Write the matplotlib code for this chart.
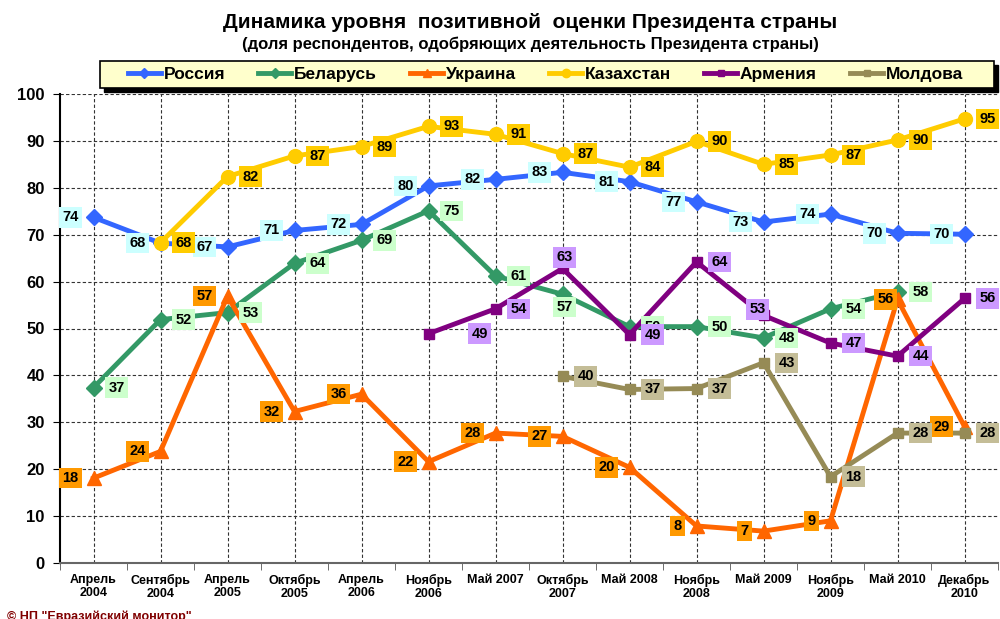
import numpy as np
import matplotlib
matplotlib.use("Agg")
import matplotlib.pyplot as plt
from matplotlib.patches import Rectangle

plt.rcParams['font.family'] = ['Liberation Sans', 'DejaVu Sans']
plt.rcParams['font.weight'] = 'bold'

nan = np.nan

# survey waves
periods = ["Апрель\n2004", "Сентябрь\n2004", "Апрель\n2005", "Октябрь\n2005",
           "Апрель\n2006", "Ноябрь\n2006", "Май 2007", "Октябрь\n2007",
           "Май 2008", "Ноябрь\n2008", "Май 2009", "Ноябрь\n2009",
           "Май 2010", "Декабрь\n2010"]

# approval, %
russia = [73.7, 68.2, 67.4, 70.9, 72.2, 80.4, 81.8, 83.3, 81.3, 77.0, 72.7, 74.4, 70.3, 70.1]
belarus = [37.4, 51.9, 53.4, 63.9, 68.8, 75.1, 61.2, 57.3, 50.4, 50.4, 48.0, 54.2, 57.8, nan]
ukraine = [18.1, 23.8, 56.9, 32.3, 36.0, 21.6, 27.7, 27.0, 20.4, 7.9, 6.8, 9.0, 56.2, 29.1]
kazakhstan = [nan, 68.3, 82.4, 86.8, 88.8, 93.1, 91.4, 87.3, 84.4, 89.9, 85.0, 87.0, 90.2, 94.7]
armenia = [nan, nan, nan, nan, nan, 48.9, 54.2, 62.8, 48.7, 64.2, 52.8, 46.9, 44.1, 56.4]
moldova = [nan, nan, nan, nan, nan, nan, nan, 39.8, 37.0, 37.2, 42.7, 18.4, 27.7, 27.7]

names = ["Россия", "Беларусь", "Украина", "Казахстан", "Армения", "Молдова"]
series = [russia, belarus, ukraine, kazakhstan, armenia, moldova]

# style per country: line colour, marker, marker size, label box colour, label side
styles = [
    ("#3366FF", "D", 8, "#CCFFFF", "left"),
    ("#339966", "D", 8, "#CCFFCC", "right"),
    ("#FF6600", "^", 10, "#FF9900", "left"),
    ("#FFCC00", "o", 10, "#FFCC00", "right"),
    ("#800080", "s", 7, "#CC99FF", "right"),
    ("#968B56", "s", 7, "#C4BD97", "right"),
]

# hand-placed labels: (series, point) -> (ha, dx px, dy px)
label_fix = {
    (1, 7): ("center", 2, -13),
    (2, 12): ("right", -4, 0),
    (4, 5): ("left", 43, 0),
    (4, 7): ("center", 2, 11),
    (4, 10): ("center", -6, 6),
}

x = np.arange(len(periods))

fig = plt.figure(figsize=(10, 6.19), dpi=100)
ax = fig.add_axes([0.06, 1 - 563 / 619, 0.938, (563 - 94) / 619])

handles = []
for i, (vals, name) in enumerate(zip(series, names)):
    color, marker, ms, box, side = styles[i]
    line, = ax.plot(x, vals, color=color, lw=3.5, marker=marker, ms=ms,
                    mec=color, mfc=color, label=name, zorder=3 + i * 0.1,
                    clip_on=False)
    handles.append(line)

for i, vals in enumerate(series):
    color, marker, ms, box, side = styles[i]
    for j, v in enumerate(vals):
        if np.isnan(v):
            continue
        if (i, j) in label_fix:
            ha, dx, dy = label_fix[(i, j)]
        elif side == "left":
            ha, dx, dy = "right", -15, 0
        else:
            ha, dx, dy = "left", 15, 0
        ax.annotate(f"{v:.0f}", xy=(x[j], v), xytext=(dx, dy),
                    textcoords="offset pixels", ha=ha, va="center",
                    fontsize=10.5, fontweight="bold", color="black",
                    bbox=dict(boxstyle="square,pad=0.22", fc=box, ec="none"),
                    zorder=10, annotation_clip=False)

ax.set_xlim(-0.5, 13.5)
ax.set_ylim(0, 100)
ax.set_xticks(x)
ax.set_xticklabels(periods)
ax.set_xticks(np.arange(-0.5, 14, 1), minor=True)
ax.set_yticks(np.arange(0, 101, 10))
ax.tick_params(axis="x", which="major", length=0, pad=8, labelsize=9)
ax.tick_params(axis="x", which="minor", length=5, direction="out", color="#555555")
ax.tick_params(axis="y", length=5, direction="out", pad=6, labelsize=12)
for lbl in ax.get_xticklabels():
    lbl.set_linespacing(1.05)

ax.grid(True, which="major", color="#333333", lw=0.8, ls=(0, (3, 2)))
ax.set_axisbelow(True)
ax.spines["top"].set_visible(False)
ax.spines["right"].set_visible(False)
ax.spines["left"].set_linewidth(1.5)
ax.spines["bottom"].set_linewidth(1.5)
ax.spines["bottom"].set_color("#666666")

fig.text(0.53, 1 - 22 / 619, "Динамика уровня  позитивной  оценки Президента страны",
         ha="center", va="center", fontsize=15, fontweight="bold")
fig.text(0.53, 1 - 44 / 619, "(доля респондентов, одобряющих деятельность Президента страны)",
         ha="center", va="center", fontsize=12, fontweight="bold")

# legend box with a hard black shadow
lx, ly, lw_, lh = 0.1, 1 - 88 / 619, 0.894, 27 / 619
fig.patches.append(Rectangle((lx + 4 / 1000, ly - 4 / 619), lw_, lh,
                             transform=fig.transFigure, fc="black", ec="black",
                             zorder=0))
fig.patches.append(Rectangle((lx, ly), lw_, lh, transform=fig.transFigure,
                             fc="#FFFFCC", ec="black", lw=1.2, zorder=1))

leg = fig.legend(handles, names, loc="center",
                 bbox_to_anchor=(0.128, ly, 0.835, lh),
                 mode="expand", ncol=6, fontsize=12.5, frameon=False,
                 handlelength=1.9, handletextpad=0.15, borderaxespad=0,
                 borderpad=0.0, markerscale=0.6)

fig.text(0.007, -0.002, '© НП "Евразийский монитор"', color="#800000",
         fontsize=9, fontweight="bold", va="baseline", ha="left")

fig.savefig("out.png", dpi=100)
